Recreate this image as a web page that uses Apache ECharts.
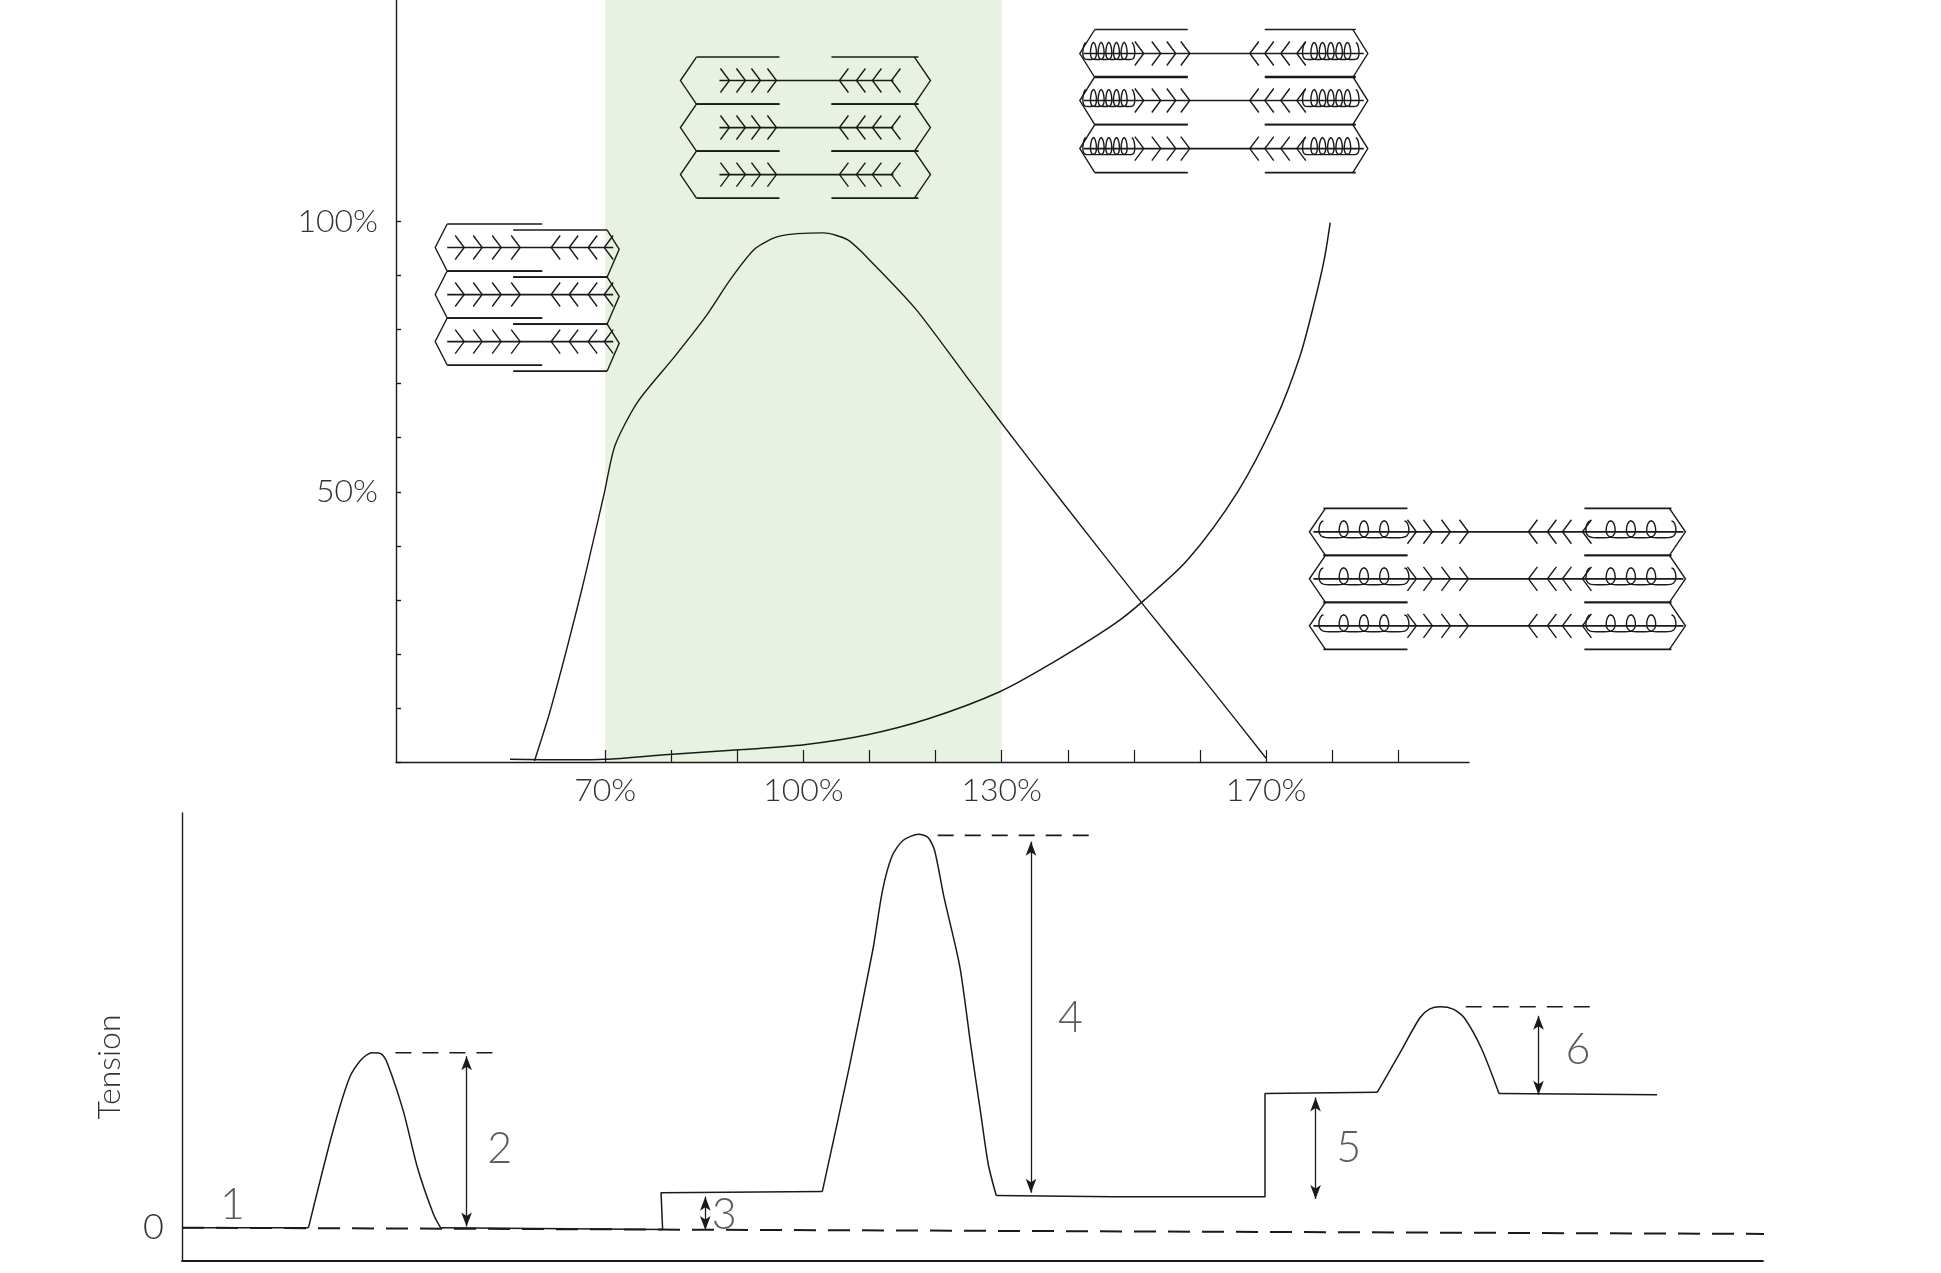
<!DOCTYPE html>
<html><head><meta charset="utf-8">
<style>html,body{margin:0;padding:0;background:#fff}#c{width:1941px;height:1273px}</style>
<script src="https://cdn.jsdelivr.net/npm/echarts@6/dist/echarts.min.js"></script>
</head><body><div id="c"></div>
<script>
// ---- length-tension panel ----
const lengthTicks = [70,80,90,100,110,120,130,140,150,160,170,180,190];
const lengthLabels = [70,100,130,170];
const tensionTicks = [0,10,20,30,40,50,60,70,80,90,100];
const tensionLabels = [50,100];
const optimalRange = [70,130];
const activeLength = [59.3,61.8,66.4,69.8,71.5,74.9,80.5,85.2,88.9,92.7,96.4,103,106.7,110.4,117,124.5,130.1,139.5,151.6,161,170];
const activeTension = [0.2,10,31.6,49.4,58.6,66.6,75,82.4,89.2,95,97.3,97.9,96.6,92.4,83.8,71.6,62.5,47.6,28.8,14.6,0.7];
const passiveLength = [55.6,64.6,70,79.6,90.8,100.1,109.5,118.9,129.7,137.6,147,151.6,158.2,165.7,171.3,175.1,177.3,178.8,179.7];
const passiveTension = [0.5,0.4,0.5,1.4,2.3,3.2,5,8,13,18.3,25.5,30,37.5,50,63,75,85,93,99.8];
// sarcomere icons: length, tension, kind
const iconLength = [58.2,58.2,58.2,100.3,100.3,100.3,163.6,163.6,163.6,205,205,205];
const iconTension = [95.2,86.5,77.8,126.1,117.4,108.7,131.1,122.4,113.5,42.6,33.9,25.2];
const iconKind = [0,0,0,1,1,1,2,2,2,3,3,3];
// ---- tension trace panel ----
const traceTime = [0,8,9.55,10.6,11.3,12,12.6,13,14,14.9,15.9,16.35,30.4,30.3,40.5,42.2,43.7,44.3,44.9,45.6,46.6,47.2,47.6,48.2,49.2,49.9,50.5,51,51.5,58.9,68.5,68.5,75.6,77,78.3,78.9,79.6,80.4,81.1,82.2,83.3,93.3];
const traceTension = [0,0,24.7,38.3,42.7,44.6,44.3,41.8,29.7,15.2,3.5,0,-0.5,8.9,9.2,40.8,70.9,85.8,94.6,98.7,100.3,99.4,96.2,84.2,66.5,46.2,29.7,16.1,8.2,7.9,7.9,34.2,34.5,44.3,53.5,55.7,56.3,55.7,53.5,45.6,34.2,33.9];
// which runs of the trace are rounded twitches [first, last, rounded]
const traceRuns = [[0,1,false],[1,11,true],[11,14,false],[14,28,true],[28,32,false],[32,40,true],[40,41,false]];
const zeroRefTime = [0,100.2];
const zeroRefTension = [0,-1.6];
const peakRefStart = [13.5,47.8,81.2];
const peakRefEnd = [20.2,57.4,89.4];
const peakRefTension = [44.6,100,56.3];
const arrowTime = [18,33.1,53.7,71.7,85.8];
const arrowFrom = [43.7,7.9,98.4,33.2,54];
const arrowTo = [0.3,-0.6,8.9,7.3,33.9];
const phaseLabels = ['1','2','3','4','5','6'];
const phaseTime = [3.2,20.1,34.3,56.2,73.8,88.3];
const phaseTension = [5.7,19.9,3.2,53.5,20.3,45.3];
const traceYLabels = [0];

const INK = '#1a1a1a', TEXT = '#333333', FONT = 'Lato';
const zip = (a,b) => a.map((v,i)=>[v,b[i]]);

// icon drawing geometry, in pixels relative to each icon's centre
const glyphs = [
 {w:92,inset:12,h:47,topL:[-80,15],topR:[-14,80],shift:6,lc:[-63,-45,-26,-7],rc:[24,42,61,77],core:[-80,86],coil:0},
 {w:125,inset:16,h:47,topL:[-109,-26],topR:[26,113],shift:0,lc:[-76,-60,-45,-29],rc:[34,51,67,86],core:[-86,88],coil:0},
 {w:144,inset:15,h:48,topL:[-129,-36],topR:[41,132],shift:0,lc:[-80,-63,-48,-34],rc:[26,41,57,73],core:[-140,140],coil:6,coilL:[-138,-92],coilR:[82,132]},
 {w:188,inset:16,h:47,topL:[-174,-90],topR:[87,174],shift:0,lc:[-81,-65,-47,-29],rc:[31,50,65,85],core:[-184,186],coil:4,coilL:[-174,-93],coilR:[93,174]}
];
function coil(x0,x1,n,cx,cy){
  const pts=[],L=x1-x0,rx=Math.min(9,L/n*0.62),steps=n*20;
  for(let i=0;i<=steps;i++){const s=i/steps,a=2*Math.PI*n*s,f=Math.pow((1+Math.cos(a))/2,2);
    pts.push([cx+x0+L*s-rx*Math.sin(a),cy+6-17*f]);}
  return pts;
}
function renderIcon(params,api){
  const p=api.coord([api.value(0),api.value(1)]),g=glyphs[api.value(2)],cx=p[0],cy=p[1];
  const st={stroke:INK,lineWidth:1.4,fill:null},ch=[];
  const pl=(pts,lw)=>ch.push({type:'polyline',shape:{points:pts},style:lw?Object.assign({},st,{lineWidth:lw}):st});
  const hh=g.h/2;
  pl([[cx-g.w+g.inset,cy-hh],[cx-g.w,cy],[cx-g.w+g.inset,cy+hh]]);
  pl([[cx+g.w-g.inset,cy-hh+g.shift],[cx+g.w,cy+g.shift*0.3],[cx+g.w-g.inset,cy+hh+g.shift]]);
  pl([[cx+g.topL[0],cy-hh],[cx+g.topL[1],cy-hh]],1.7);
  pl([[cx+g.topL[0],cy+hh],[cx+g.topL[1],cy+hh]],1.7);
  pl([[cx+g.topR[0],cy-hh+g.shift],[cx+g.topR[1],cy-hh+g.shift]],1.7);
  pl([[cx+g.topR[0],cy+hh+g.shift],[cx+g.topR[1],cy+hh+g.shift]],1.7);
  pl([[cx+g.core[0],cy],[cx+g.core[1],cy]],1.7);
  g.lc.forEach(x=>pl([[cx+x-9,cy-12],[cx+x,cy],[cx+x-9,cy+12]]));
  g.rc.forEach(x=>pl([[cx+x+9,cy-12],[cx+x,cy],[cx+x+9,cy+12]]));
  if(g.coil){pl(coil(g.coilL[0],g.coilL[1],g.coil,cx,cy));pl(coil(g.coilR[0],g.coilR[1],g.coil,cx,cy));}
  return {type:'group',children:ch};
}

const lineBase={type:'line',showSymbol:false,symbol:'none',silent:true,z:3};
const dash={color:INK,width:2,type:[22,12]};
const peakDash={color:INK,width:1.6,type:[16,11]};
const series=[
 Object.assign({},lineBase,{name:'active',xAxisIndex:0,yAxisIndex:0,smooth:0.25,data:zip(activeLength,activeTension),lineStyle:{color:INK,width:1.4},
   markArea:{silent:true,itemStyle:{color:'#e7f2e2'},data:[[{xAxis:optimalRange[0]},{xAxis:optimalRange[1]}]],z:1}}),
 Object.assign({},lineBase,{name:'passive',xAxisIndex:0,yAxisIndex:0,smooth:0.3,data:zip(passiveLength,passiveTension),lineStyle:{color:INK,width:1.5}}),
 {type:'custom',name:'icons',xAxisIndex:0,yAxisIndex:0,silent:true,clip:false,z:4,renderItem:renderIcon,encode:{x:0,y:1},
   data:iconLength.map((v,i)=>[v,iconTension[i],iconKind[i]])},
 ...traceRuns.map((r,i)=>Object.assign({},lineBase,{name:'trace'+i,xAxisIndex:1,yAxisIndex:1,smooth:r[2]?0.25:false,
   data:zip(traceTime.slice(r[0],r[1]+1),traceTension.slice(r[0],r[1]+1)),lineStyle:{color:INK,width:1.5}})),
 Object.assign({},lineBase,{name:'zero',xAxisIndex:1,yAxisIndex:1,data:zip(zeroRefTime,zeroRefTension),lineStyle:dash}),
 ...peakRefTension.map((v,i)=>Object.assign({},lineBase,{name:'peak'+i,xAxisIndex:1,yAxisIndex:1,data:[[peakRefStart[i],v],[peakRefEnd[i],v]],lineStyle:peakDash})),
 Object.assign({},lineBase,{name:'arrows',xAxisIndex:1,yAxisIndex:1,data:[],
   markLine:{silent:true,symbol:['arrow','arrow'],symbolSize:[8,14],animation:false,label:{show:false},
     lineStyle:{color:INK,width:1.3,type:'solid'},
     data:arrowTime.map((t,i)=>[{coord:[t,arrowFrom[i]]},{coord:[t,arrowTo[i]]}])}}),
 {type:'scatter',name:'phases',xAxisIndex:1,yAxisIndex:1,silent:true,symbolSize:0,z:5,
   data:phaseLabels.map((s,i)=>({name:s,value:[phaseTime[i],phaseTension[i]]})),
   label:{show:true,position:'inside',formatter:'{b}',fontFamily:FONT,fontSize:43,fontWeight:300,color:TEXT}}
];

const option={
 animation:false,backgroundColor:'#fff',
 grid:[{left:396,top:0,width:1073,height:762},{left:182,top:813,width:1581,height:448}],
 xAxis:[
  {type:'value',gridIndex:0,min:38.35,max:200.7,splitLine:{show:false},z:6,
   axisLine:{onZero:false,lineStyle:{color:INK,width:1.4}},
   axisTick:{inside:true,length:12,customValues:lengthTicks,lineStyle:{color:INK,width:1.2}},
   axisLabel:{customValues:lengthLabels,formatter:'{value}%',margin:13,fontFamily:FONT,fontSize:32,fontWeight:300,color:TEXT}},
  {type:'value',gridIndex:1,min:0,max:100,splitLine:{show:false},z:6,
   axisLine:{onZero:false,lineStyle:{color:INK,width:1.8}},axisTick:{show:false},axisLabel:{show:false}}
 ],
 yAxis:[
  {type:'value',gridIndex:0,min:0,max:141,splitLine:{show:false},z:6,
   axisLine:{onZero:false,lineStyle:{color:INK,width:1.4}},
   axisTick:{inside:true,length:5,customValues:tensionTicks,lineStyle:{color:INK,width:1.4}},
   axisLabel:{customValues:tensionLabels,formatter:'{value}%',margin:18,fontFamily:FONT,fontSize:32,fontWeight:300,color:TEXT}},
  {type:'value',gridIndex:1,min:-8.5,max:105.7,splitLine:{show:false},z:6,
   name:'Tension',nameLocation:'middle',nameGap:56,nameRotate:90,
   nameTextStyle:{fontFamily:FONT,fontSize:32,fontWeight:300,color:TEXT,padding:[0,0,0,-60]},
   axisLine:{onZero:false,lineStyle:{color:INK,width:1.4}},axisTick:{show:false},
   axisLabel:{customValues:traceYLabels,margin:18,fontFamily:FONT,fontSize:36,fontWeight:300,color:TEXT}}
 ],
 series:series
};
echarts.init(document.getElementById('c'),null,{renderer:'canvas'}).setOption(option);
</script></body></html>
